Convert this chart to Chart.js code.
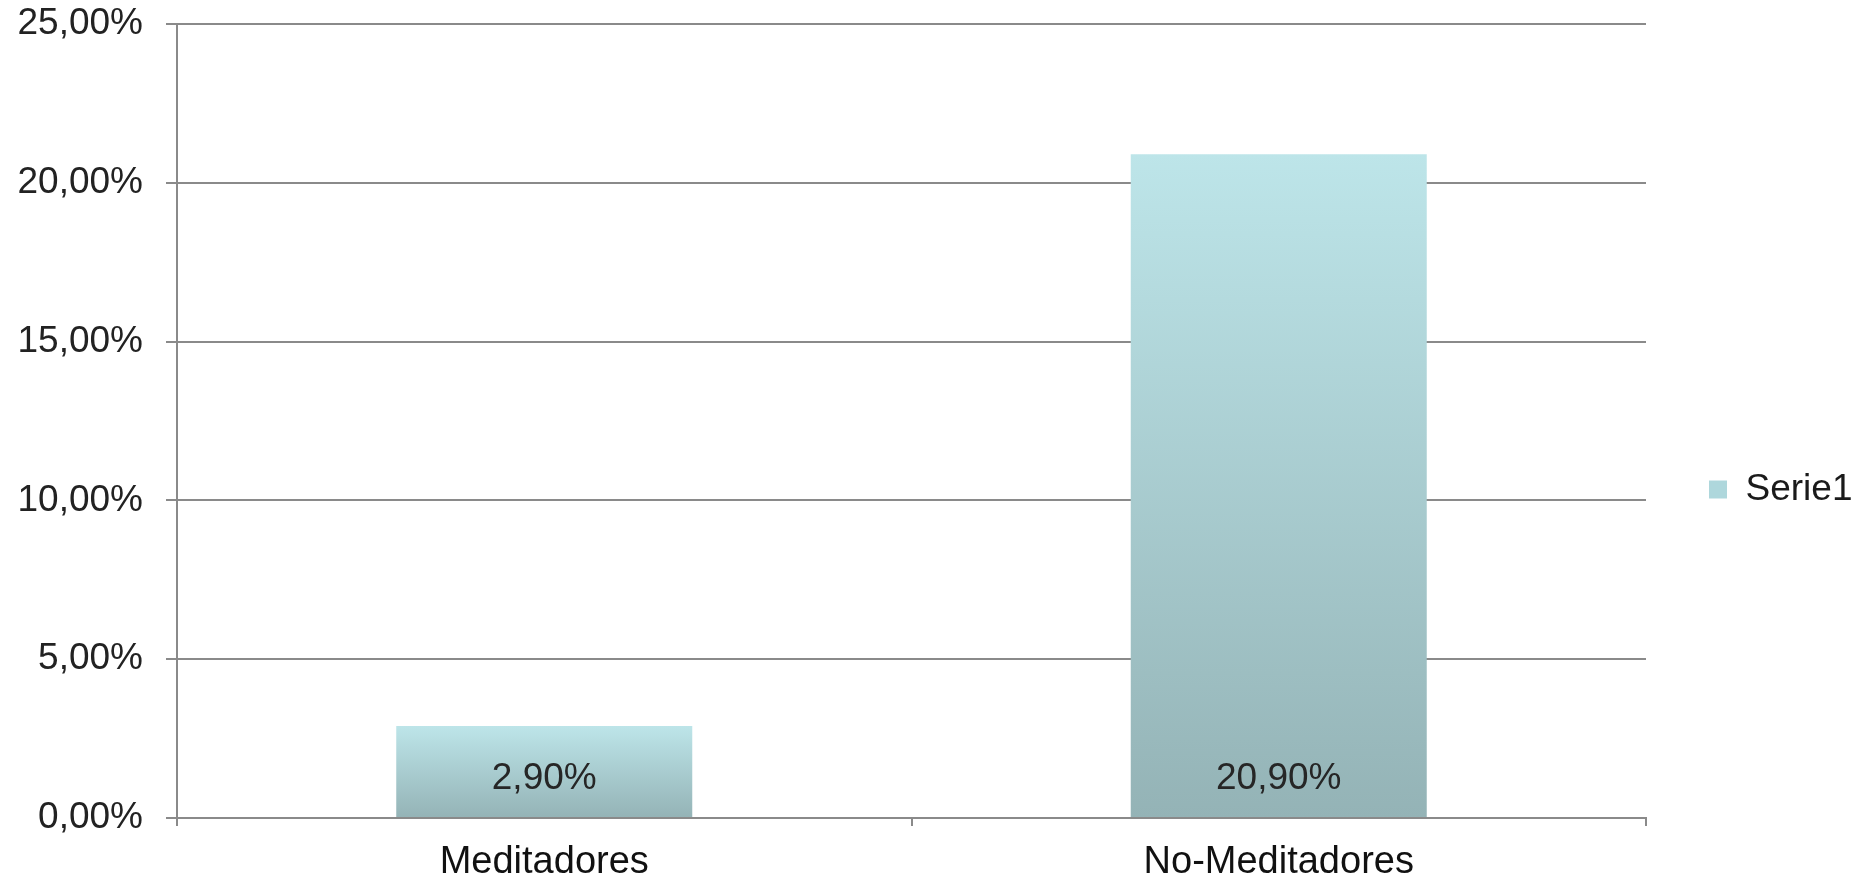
<!DOCTYPE html>
<html>
<head>
<meta charset="utf-8">
<title>Meditadores vs No-Meditadores</title>
<script src="https://cdn.jsdelivr.net/npm/chart.js@4/dist/chart.umd.min.js"></script>
<style>
  html, body { margin: 0; padding: 0; background: #fff; }
  #wrap { width: 1854px; height: 883px; position: relative; }
</style>
</head>
<body>
<div id="wrap"><canvas id="myChart"></canvas></div>
<script>
// data
const categories = ["Meditadores", "No-Meditadores"];
const serie1 = [0.029, 0.209];
const seriesName = "Serie1";
const yTickValues = [0, 0.05, 0.10, 0.15, 0.20, 0.25];

const fontFamily = "'Liberation Sans', Arial, sans-serif";
const textColor = "#222222";
const gridColor = "#8a8a8a";

const pct = (v) => (v * 100).toFixed(2).replace(".", ",") + "%";

// each bar has its own light-cyan -> grey-teal gradient
function barGradient(context) {
  const chart = context.chart;
  if (!chart.chartArea) return "#b0d6da";
  const y = chart.scales.y;
  const top = y.getPixelForValue(context.dataset.data[context.dataIndex]);
  const base = y.getPixelForValue(0);
  const g = chart.ctx.createLinearGradient(0, top, 0, base);
  g.addColorStop(0, "#bde5e9");
  g.addColorStop(1, "#94b3b6");
  return g;
}

// value labels sitting near the foot of each bar
const valueLabels = {
  id: "valueLabels",
  afterDatasetsDraw(chart) {
    const ctx = chart.ctx;
    const meta = chart.getDatasetMeta(0);
    ctx.save();
    ctx.font = "37px " + fontFamily;
    ctx.fillStyle = "#262626";
    ctx.textAlign = "center";
    ctx.textBaseline = "middle";
    meta.data.forEach((bar, i) => {
      ctx.fillText(pct(serie1[i]), bar.x, bar.base - 38);
    });
    ctx.restore();
  }
};

const ctx = document.getElementById("myChart").getContext("2d");
const myChart = new Chart(ctx, {
  type: "bar",
  data: {
    labels: categories,
    datasets: [{
      label: seriesName,
      data: serie1,
      backgroundColor: barGradient,
      borderWidth: 0,
      categoryPercentage: 1,
      barPercentage: 0.403
    }]
  },
  options: {
    responsive: true,
    maintainAspectRatio: false,
    animation: false,
    layout: { padding: { top: 24, right: 0, bottom: 0, left: 0 } },
    plugins: {
      tooltip: { enabled: false },
      legend: {
        position: "right",
        align: "center",
        maxWidth: 208,
        title: {
          // empty title only pushes the single entry down a little
          display: true,
          text: " ",
          font: { size: 10 },
          padding: { top: 60, bottom: 0 }
        },
        labels: {
          font: { family: fontFamily, size: 37 },
          color: "#1a1a1a",
          boxWidth: 18,
          boxHeight: 18,
          padding: 63,
          generateLabels: () => [{
            text: seriesName,
            fillStyle: "#aed7dc",
            strokeStyle: "#aed7dc",
            fontColor: "#1a1a1a",
            lineWidth: 0,
            datasetIndex: 0
          }]
        }
      }
    },
    scales: {
      x: {
        offset: true,
        grid: {
          offset: true,
          drawOnChartArea: false,
          drawTicks: true,
          tickLength: 8,
          color: gridColor,
          lineWidth: 2
        },
        border: { display: true, color: gridColor, width: 2 },
        ticks: {
          font: { family: fontFamily, size: 38 },
          color: "#111111",
          padding: 14
        },
        afterFit: (scale) => { scale.height = 65; }
      },
      y: {
        min: 0,
        max: 0.25,
        afterBuildTicks: (scale) => {
          scale.ticks = yTickValues.map((v) => ({ value: v }));
        },
        grid: {
          color: gridColor,
          lineWidth: 2,
          tickLength: 11,
          drawTicks: true
        },
        border: { display: true, color: gridColor, width: 2 },
        ticks: {
          font: { family: fontFamily, size: 37 },
          color: textColor,
          padding: 23,
          callback: (v) => pct(v)
        },
        afterFit: (scale) => {
          scale.width = 177;
          // keep the label overhang from pushing the plot top down
          scale.paddingTop = 0;
          scale.paddingBottom = 0;
        }
      }
    }
  },
  plugins: [valueLabels]
});
</script>
</body>
</html>
